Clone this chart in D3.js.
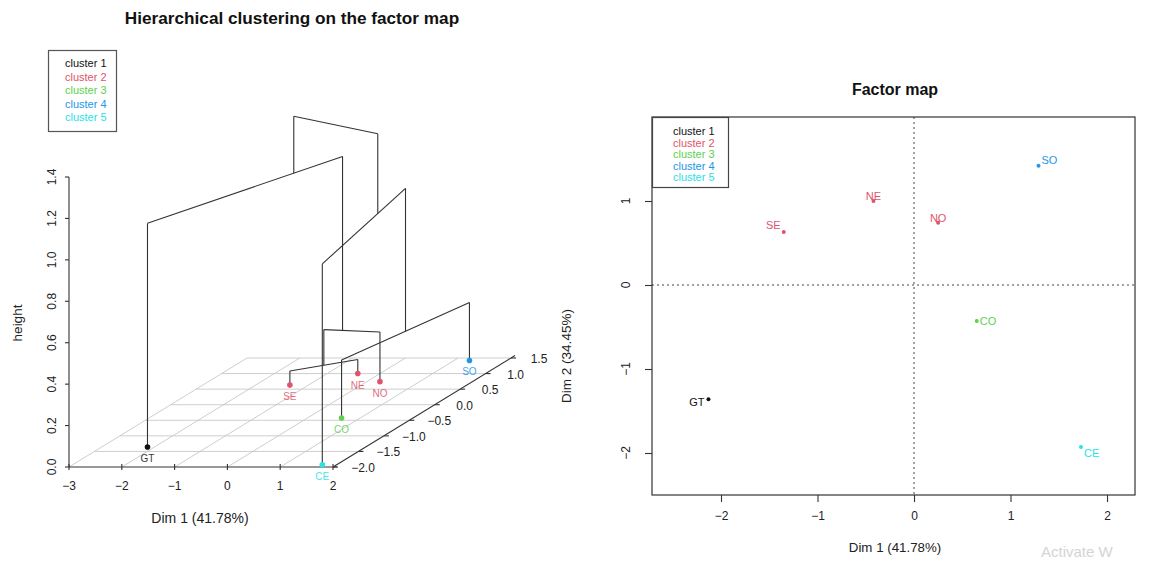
<!DOCTYPE html>
<html>
<head>
<meta charset="utf-8">
<script src="https://cdn.jsdelivr.net/npm/d3@7"></script>
<style>
  html, body { margin: 0; padding: 0; background: #fff; }
  svg { display: block; font-family: "Liberation Sans", Arial, Helvetica, sans-serif; }
</style>
</head>
<body>
<svg id="chart" width="1151" height="563"></svg>
<script>
// ---------------- DATA ----------------
const leafNames   = ["GT", "SE", "NE", "NO", "CO", "CE", "SO"];
const dim1Values  = [-2.13, -1.35, -0.42, 0.25, 0.65, 1.73, 1.29];
const dim2Values  = [-1.36, 0.63, 1.00, 0.74, -0.43, -1.93, 1.42];
const leafCluster = [1, 2, 2, 2, 3, 5, 4];

const clusterLabels = ["cluster 1", "cluster 2", "cluster 3", "cluster 4", "cluster 5"];
const clusterColors = ["#111111", "#DF536B", "#61D04F", "#2297E6", "#28E2E5"];

// hclust-style merge table: negative = leaf (1-based), positive = earlier merge (1-based)
const mergeLeft   = [-2, 1, -5, -6, -1, 5];
const mergeRight  = [-3, -4, -7, 3, 2, 4];
const mergeHeight = [0.068, 0.24, 0.28, 0.97, 1.08, 1.355];

const heightTicks  = [0, 0.2, 0.4, 0.6, 0.8, 1.0, 1.2, 1.4];
const dim1Ticks3d  = [-3, -2, -1, 0, 1, 2];
const dim2Ticks3d  = [-2, -1.5, -1, -0.5, 0, 0.5, 1, 1.5];
const dim1TicksMap = [-2, -1, 0, 1, 2];
const dim2TicksMap = [-2, -1, 0, 1];

const titleLeft  = "Hierarchical clustering on the factor map";
const titleRight = "Factor map";
const dim1Label  = "Dim 1 (41.78%)";
const dim2Label  = "Dim 2 (34.45%)";
const heightLabel = "height";

// label placement for factor map (style only)
const mapLabelPlacement = {
  GT: {dx: -4, dy: 7, anchor: "end"},
  SE: {dx: -3, dy: -3, anchor: "end"},
  NE: {dx: 0, dy: -1, anchor: "middle"},
  NO: {dx: 0, dy: -1, anchor: "middle"},
  SO: {dx: 3, dy: -2, anchor: "start"},
  CO: {dx: 3, dy: 4, anchor: "start"},
  CE: {dx: 3, dy: 10, anchor: "start"}
};

// ---------------- DRAW ----------------
const svg = d3.select("#chart");
const ink = "#222";
const lineCol = "#333";
const minus = v => v < 0 ? "\u2212" + Math.abs(v) : String(v);

// ===== Left: 3D map =====
const baseY = 467;
const xS  = d3.scaleLinear().domain([-3, 2]).range([69, 333]);
const dX  = d3.scaleLinear().domain([-2, 1.5]).range([0, 178]);
const dY  = d3.scaleLinear().domain([-2, 1.5]).range([0, -109]);
const zS  = d3.scaleLinear().domain([0, 1.4]).range([0, -290]);
const proj = (x, y, z) => [xS(x) + dX(y), baseY + dY(y) + zS(z)];

const left = svg.append("g");

left.append("text").attr("x", 292).attr("y", 24).attr("text-anchor", "middle")
  .attr("font-size", 17.2).attr("font-weight", "bold").attr("fill", "#111").text(titleLeft);

// floor grid
const grid = left.append("g").attr("stroke", "#c8c8c8").attr("stroke-width", 0.9).attr("fill", "none");
dim2Ticks3d.forEach(v => {
  if (v === -2) return;
  const a = proj(-3, v, 0), b = proj(2, v, 0);
  grid.append("line").attr("x1", a[0]).attr("y1", a[1]).attr("x2", b[0]).attr("y2", b[1]);
});
dim1Ticks3d.forEach(v => {
  if (v === 2) return;
  const a = proj(v, -2, 0), b = proj(v, 1.5, 0);
  grid.append("line").attr("x1", a[0]).attr("y1", a[1]).attr("x2", b[0]).attr("y2", b[1]);
});

// axes
const ax = left.append("g").attr("stroke", lineCol).attr("stroke-width", 1.1).attr("fill", "none");
{
  const a = proj(-3, -2, 0), b = proj(2, -2, 0);
  ax.append("line").attr("x1", a[0]).attr("y1", a[1]).attr("x2", b[0] + 4).attr("y2", b[1]);
  const c = proj(-3, -2, 1.4);
  ax.append("line").attr("x1", a[0]).attr("y1", a[1]).attr("x2", c[0]).attr("y2", c[1]);
  const e = proj(2, 1.5, 0);
  ax.append("line").attr("x1", b[0]).attr("y1", b[1]).attr("x2", e[0] + 4).attr("y2", e[1] - 2.5);
}
dim1Ticks3d.forEach(v => {
  const p = proj(v, -2, 0);
  ax.append("line").attr("x1", p[0]).attr("y1", p[1] - 3).attr("x2", p[0]).attr("y2", p[1] + 3);
  left.append("text").attr("x", p[0]).attr("y", p[1] + 23).attr("text-anchor", "middle")
    .attr("font-size", 12).attr("fill", ink).text(minus(v));
});
heightTicks.forEach(v => {
  const p = proj(-3, -2, v);
  ax.append("line").attr("x1", p[0] - 4).attr("y1", p[1]).attr("x2", p[0]).attr("y2", p[1]);
  left.append("text").attr("transform", `translate(${p[0] - 13},${p[1]}) rotate(-90)`)
    .attr("text-anchor", "middle").attr("font-size", 12).attr("fill", ink).text(v.toFixed(1));
});
dim2Ticks3d.forEach(v => {
  const p = proj(2, v, 0);
  ax.append("line").attr("x1", p[0]).attr("y1", p[1]).attr("x2", p[0] + 5).attr("y2", p[1]);
  const lbl = v < 0 ? "\u2212" + Math.abs(v).toFixed(1) : v.toFixed(1);
  left.append("text").attr("x", p[0] + (v === 1.5 ? 28 : 30)).attr("y", p[1] + 5).attr("text-anchor", "middle")
    .attr("font-size", 12).attr("fill", ink).text(lbl);
});
left.append("text").attr("x", 200).attr("y", 523).attr("text-anchor", "middle")
  .attr("font-size", 14).attr("fill", ink).text(dim1Label);
left.append("text").attr("transform", "translate(22,323) rotate(-90)").attr("text-anchor", "middle")
  .attr("font-size", 13.5).attr("fill", ink).text(heightLabel);
left.append("text").attr("transform", "translate(571,356) rotate(-90)").attr("text-anchor", "middle")
  .attr("font-size", 13.5).attr("fill", ink).text(dim2Label);

// dendrogram
const nodes = [];
function nodeOf(ref) {
  if (ref < 0) { const i = -ref - 1; return {x: dim1Values[i], y: dim2Values[i], h: 0, n: 1}; }
  return nodes[ref - 1];
}
const tree = left.append("g").attr("stroke", lineCol).attr("stroke-width", 1.1).attr("fill", "none");
mergeHeight.forEach((h, k) => {
  const a = nodeOf(mergeLeft[k]), b = nodeOf(mergeRight[k]);
  const seg = (p, q) => {
    const P = proj(...p), Q = proj(...q);
    tree.append("line").attr("x1", P[0]).attr("y1", P[1]).attr("x2", Q[0]).attr("y2", Q[1]);
  };
  seg([a.x, a.y, a.h], [a.x, a.y, h]);
  seg([b.x, b.y, b.h], [b.x, b.y, h]);
  seg([a.x, a.y, h], [b.x, b.y, h]);
  const n = a.n + b.n;
  nodes.push({x: (a.x * a.n + b.x * b.n) / n, y: (a.y * a.n + b.y * b.n) / n, h: h, n: n});
});

// floor points
leafNames.forEach((name, i) => {
  const p = proj(dim1Values[i], dim2Values[i], 0);
  const col = clusterColors[leafCluster[i] - 1];
  left.append("circle").attr("cx", p[0]).attr("cy", p[1]).attr("r", 2.8).attr("fill", col);
  left.append("text").attr("x", p[0]).attr("y", p[1] + 15).attr("text-anchor", "middle")
    .attr("font-size", 10).attr("fill", col).attr("opacity", 0.85).text(name);
});

// legend left
left.append("rect").attr("x", 48.5).attr("y", 50.5).attr("width", 68).attr("height", 81)
  .attr("fill", "#fff").attr("stroke", "#555").attr("stroke-width", 1.2);
clusterLabels.forEach((t, i) => {
  left.append("text").attr("x", 65).attr("y", 67 + i * 13.5).attr("font-size", 11)
    .attr("fill", clusterColors[i]).text(t);
});

// ===== Right: factor map =====
const xM = d3.scaleLinear().domain([-2.715, 2.29]).range([652, 1135]);
const yM = d3.scaleLinear().domain([-2.5, 2.0]).range([495, 117]);
const right = svg.append("g");

right.append("text").attr("x", 895).attr("y", 95).attr("text-anchor", "middle")
  .attr("font-size", 16).attr("font-weight", "bold").attr("fill", "#111").text(titleRight);

right.append("line").attr("x1", xM(0)).attr("x2", xM(0)).attr("y1", 117).attr("y2", 495)
  .attr("stroke", "#444").attr("stroke-dasharray", "2,3").attr("stroke-width", 1);
right.append("line").attr("x1", 652).attr("x2", 1135).attr("y1", yM(0)).attr("y2", yM(0))
  .attr("stroke", "#444").attr("stroke-dasharray", "2,3").attr("stroke-width", 1);

right.append("rect").attr("x", 652).attr("y", 117).attr("width", 1135 - 652).attr("height", 495 - 117)
  .attr("fill", "none").attr("stroke", lineCol).attr("stroke-width", 1.2);

const xAxisM = d3.axisBottom(xM).tickValues(dim1TicksMap).tickSize(7).tickPadding(9).tickFormat(minus);
const gx = right.append("g").attr("transform", "translate(0,495)").call(xAxisM);
gx.select(".domain").remove();
gx.selectAll("line").attr("stroke", lineCol).attr("stroke-width", 1.1);
gx.selectAll("text").attr("font-size", 12).attr("fill", ink).attr("font-family", "Liberation Sans, Arial, sans-serif");

const yAxisM = d3.axisLeft(yM).tickValues(dim2TicksMap).tickSize(7).tickFormat(() => "");
const gy = right.append("g").attr("transform", "translate(652,0)").call(yAxisM);
gy.select(".domain").remove();
gy.selectAll("line").attr("stroke", lineCol).attr("stroke-width", 1.1);
dim2TicksMap.forEach(v => {
  right.append("text").attr("transform", `translate(630,${yM(v)}) rotate(-90)`).attr("text-anchor", "middle")
    .attr("font-size", 12).attr("fill", ink).text(minus(v));
});

right.append("text").attr("x", 895).attr("y", 552).attr("text-anchor", "middle")
  .attr("font-size", 13.3).attr("fill", ink).text(dim1Label);

leafNames.forEach((name, i) => {
  const px = xM(dim1Values[i]), py = yM(dim2Values[i]);
  const col = clusterColors[leafCluster[i] - 1];
  const pl = mapLabelPlacement[name];
  right.append("circle").attr("cx", px).attr("cy", py).attr("r", 2).attr("fill", col);
  right.append("text").attr("x", px + pl.dx).attr("y", py + pl.dy).attr("text-anchor", pl.anchor)
    .attr("font-size", 11).attr("fill", col).text(name);
});

// legend right
right.append("rect").attr("x", 652.5).attr("y", 117.5).attr("width", 76).attr("height", 70)
  .attr("fill", "#fff").attr("stroke", "#444").attr("stroke-width", 1.2);
clusterLabels.forEach((t, i) => {
  right.append("text").attr("x", 673).attr("y", 135 + i * 11.6).attr("font-size", 11)
    .attr("fill", clusterColors[i]).text(t);
});

// watermark fragment visible in reference
svg.append("text").attr("x", 1041).attr("y", 557).attr("font-size", 15).attr("fill", "#d4d4d4")
  .text("Activate W");
</script>
</body>
</html>
